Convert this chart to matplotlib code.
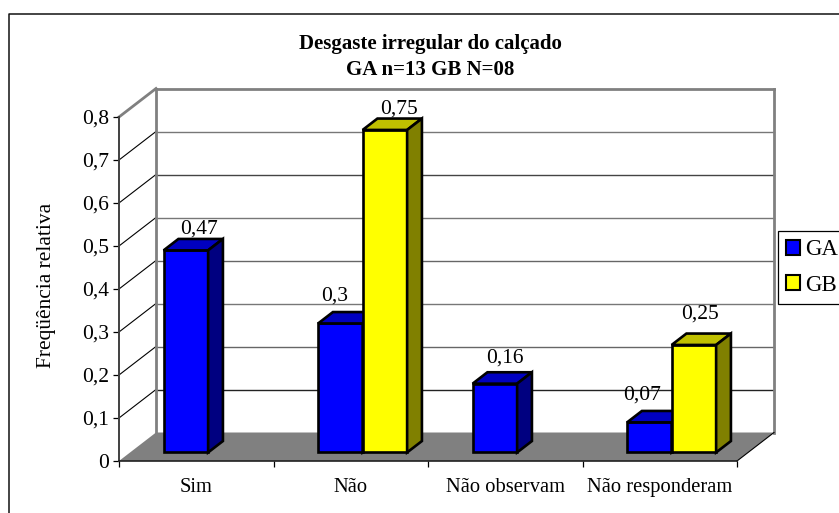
import matplotlib
matplotlib.use("Agg")
import matplotlib.pyplot as plt
from matplotlib.lines import Line2D
from matplotlib.patches import Polygon, Patch

plt.rcParams['font.family'] = ['Liberation Serif', 'DejaVu Serif']

categories = ['Sim', 'Não', 'Não observam', 'Não responderam']
ga = [0.47, 0.3, 0.16, 0.07]
gb = [None, 0.75, None, 0.25]
y_ticks = [0, 0.1, 0.2, 0.3, 0.4, 0.5, 0.6, 0.7, 0.8]
title = 'Desgaste irregular do calçado\nGA n=13 GB N=08'
ylabel = 'Freqüência relativa'

# nudges of the value labels, pixels from the back of the bar top
ga_nudge = [(13, 10), (-6, 16), (10, 14), (-7, 16)]
gb_nudge = [(0, 0), (14, 10), (0, 0), (6, 20)]

W, H = 839, 513
fig = plt.figure(figsize=(W / 100, H / 100), dpi=100)
ax = fig.add_axes([119 / W, 1 - 461 / H, 618 / W, 344 / H])
ax.set_xlim(0, 4)
ax.set_ylim(0, 0.8)

# fake 3d: how far the back wall sits from the front plane, in data units
DX = 37 / 154.5
DY = 28.5 / 430
BAR_W = 0.288
BAR_X0 = 0.217
D0, D1 = 0.3, 0.7


def back(x, y, d=1.0):
    return (x + d * DX, y + d * DY)


# floor
ax.add_patch(Polygon([(0, 0), (4, 0), back(4, 0), back(0, 0)], fc='#808080', ec='none', zorder=1, clip_on=False))
ax.plot([4, back(4, 0)[0]], [0, back(4, 0)[1]], color='black', lw=0.8, zorder=1.5, clip_on=False)

# walls and grid
grid_cols = ['#222222', '#666666', '#777777', '#666666', '#777777', '#444444', '#777777']
for v, c in zip(y_ticks[1:-1], grid_cols):
    ax.plot([0, DX], [v, v + DY], color='black', lw=0.8, zorder=1, clip_on=False)
    ax.plot([DX, 4 + DX], [v + DY, v + DY], color=c, lw=1.0, zorder=1, clip_on=False)
wall = dict(color='#808080', lw=2.0, zorder=1.2, clip_on=False, solid_capstyle='projecting')
ax.plot([0, DX], [0.8, 0.8 + DY], **wall)
ax.plot([DX, 4 + DX], [0.8 + DY, 0.8 + DY], **wall)
ax.plot([DX, DX], [DY, 0.8 + DY], **wall)
ax.plot([4 + DX, 4 + DX], [DY, 0.8 + DY], **wall)


def bar3d(x, v, front, top, side):
    x0 = x + D0 * DX
    y0 = D0 * DY
    ax.bar(x0, v, BAR_W, bottom=y0, align='edge', color=front, edgecolor='black', lw=1.9, zorder=3, clip_on=False)
    x1 = x0 + BAR_W
    y1 = y0 + v
    d = D1 - D0
    ax.add_patch(Polygon([(x0, y1), (x1, y1), (x1 + d * DX, y1 + d * DY), (x0 + d * DX, y1 + d * DY)],
                         fc=top, ec='black', lw=1.9, zorder=3, joinstyle='miter', clip_on=False))
    ax.add_patch(Polygon([(x1, y0), (x1 + d * DX, y0 + d * DY), (x1 + d * DX, y1 + d * DY), (x1, y1)],
                         fc=side, ec='black', lw=1.9, zorder=3, joinstyle='miter', clip_on=False))
    return x0 + BAR_W / 2, y1 + d * DY


def value_label(pos, v, nudge):
    txt = str(v).replace('.', ',')
    ax.annotate(txt, pos, xytext=(nudge[0] * 0.72, nudge[1] * 0.72), textcoords='offset points',
                ha='center', va='center', fontsize=15.5, color='black', zorder=5, annotation_clip=False)


for i in range(len(categories)):
    if ga[i] is not None:
        p = bar3d(i + BAR_X0, ga[i], '#0000FF', '#0000C0', '#000080')
        value_label(p, ga[i], ga_nudge[i])
    if gb[i] is not None:
        p = bar3d(i + BAR_X0 + BAR_W, gb[i], '#FFFF00', '#C0C000', '#808000')
        value_label(p, gb[i], gb_nudge[i])

# axes
for s in ['top', 'right']:
    ax.spines[s].set_visible(False)
ax.patch.set_visible(False)
ax.spines['left'].set_color('#404040')
ax.spines['left'].set_linewidth(1.4)
ax.spines['bottom'].set_color('#202020')
ax.spines['bottom'].set_linewidth(1.2)
ax.spines['left'].set_zorder(2)
ax.spines['bottom'].set_zorder(2)

ax.set_yticks(y_ticks)
ax.set_yticklabels(['0' if v == 0 else f'{v:.1f}'.replace('.', ',') for v in y_ticks], fontsize=15.5)
ax.tick_params(axis='y', length=4.3, width=0.9, pad=3)
ax.set_xticks([0, 1, 2, 3, 4])
ax.set_xticklabels([])
ax.set_xticks([0.5, 1.5, 2.5, 3.5], minor=True)
ax.set_xticklabels(categories, minor=True, fontsize=14.8)
ax.tick_params(axis='x', which='major', length=4.3, width=0.9)
ax.tick_params(axis='x', which='minor', length=0, pad=12)

ax.set_ylabel(ylabel, fontsize=15.4)
ax.yaxis.set_label_coords((56 - 119) / 618, (461 - 285) / 344)

fig.text(430.5 / W, 1 - 57 / H, title, ha='center', va='center', fontsize=15, fontweight='bold', linespacing=1.4)

# chart frame, runs off the right and bottom of the picture
fig.add_artist(Line2D([9 / W, 9 / W, 1], [0, 1 - 14 / H, 1 - 14 / H], color='#111111', lw=1.1))

handles = [Patch(fc='#0000FF', ec='black', lw=1.5, label='GA'), Patch(fc='#FFFF00', ec='black', lw=1.5, label='GB')]
leg = fig.legend(handles=handles, loc='upper left', bbox_to_anchor=(778 / W, 1 - 231 / H), fontsize=16.5,
                 fancybox=False, framealpha=1, edgecolor='black', borderaxespad=0, borderpad=0.36,
                 handlelength=0.62, handleheight=0.62, handletextpad=0.2, labelspacing=0.63)
leg.get_frame().set_linewidth(0.9)

fig.savefig('out.png', dpi=100)
